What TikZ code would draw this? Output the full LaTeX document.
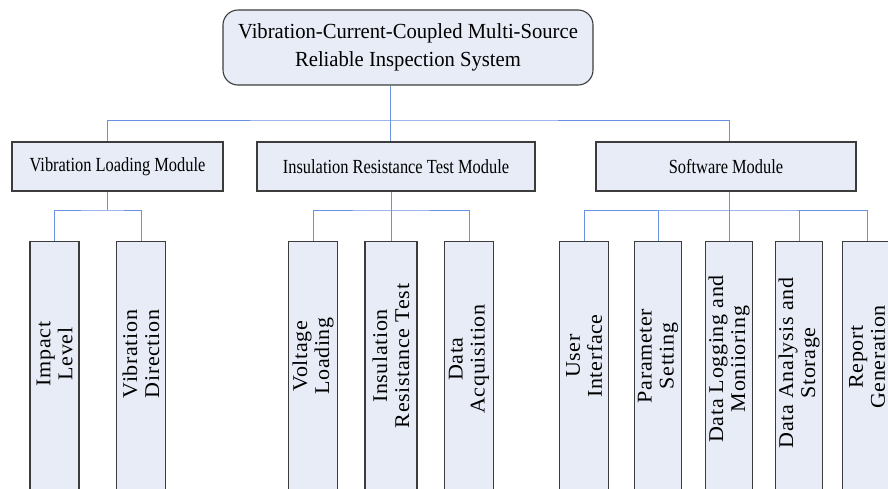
\documentclass[tikz,border=0pt]{standalone}
\usepackage{fontspec}
\setmainfont{Liberation Serif}
\newfontfamily\titlefont[FakeStretch=0.96]{Liberation Serif}
\newfontfamily\modfont[FakeStretch=0.82]{Liberation Serif}
\newfontfamily\leaffont[FakeStretch=1.05,LetterSpace=3]{Liberation Serif}
\usepackage{tikz}
\definecolor{boxfill}{RGB}{231,236,246}
\definecolor{boxline}{RGB}{60,60,60}
\definecolor{linkblue}{RGB}{105,145,225}
\tikzset{
  sysbox/.style={draw=boxline, fill=boxfill, line width=1.1pt, rounded corners=15pt,
    minimum width=370pt, minimum height=75pt, align=center,
    font=\titlefont\fontsize{21.5}{28}\selectfont},
  modbox/.style={draw=boxline, fill=boxfill, line width=1.1pt,
    minimum height=49pt, font=\modfont\fontsize{20}{24}\selectfont},
  leaf/.style={draw=boxline, fill=boxfill, line width=1.1pt, anchor=north,
    minimum width=49pt, minimum height=300pt},
  leaflabel/.style={rotate=90, align=center, inner sep=0pt,
    font=\leaffont\fontsize{21}{22}\selectfont},
  link/.style={draw=linkblue, line width=0.9pt}
}

\begin{document}
\begin{tikzpicture}[x=1pt,y=-1pt]
\clip (0,0) rectangle (888,488);
\fill [white] (0,0) rectangle (888,488);
\node [sysbox] (sys) at (408,47.5) {Vibration-Current-Coupled Multi-Source\\Reliable Inspection System};
\node [modbox, minimum width=211pt] (vlm) at (117.5,166.5) {Vibration Loading Module};
\node [modbox, minimum width=278pt] (irm) at (396,166.5) {Insulation Resistance Test Module};
\node [modbox, minimum width=260pt] (sm) at (726,166.5) {Software Module};
\node [leaf] (impact) at (54.5,241) {};
\node [leaf] (vdir) at (141,241) {};
\node [leaf] (volt) at (313,241) {};
\node [leaf, minimum width=52pt] (irt) at (391,241) {};
\node [leaf] (daq) at (469,241) {};
\node [leaf] (ui) at (584,241) {};
\node [leaf, minimum width=47pt] (ps) at (658,241) {};
\node [leaf, minimum width=47pt] (dl) at (729,241) {};
\node [leaf, minimum width=47pt] (da) at (799,241) {};
\node [leaf] (rep) at (867,241) {};
\node [leaflabel] (impacttxt) at ([yshift=-113pt]impact.north) {Impact\\Level};
\node [leaflabel] (vdirtxt) at ([yshift=-113pt]vdir.north) {Vibration\\Direction};
\node [leaflabel] (volttxt) at ([yshift=-115pt]volt.north) {Voltage\\Loading};
\node [leaflabel] (irttxt) at ([yshift=-115pt]irt.north) {Insulation\\Resistance Test};
\node [leaflabel] (daqtxt) at ([yshift=-118pt]daq.north) {Data\\Acquisition};
\node [leaflabel] (uitxt) at ([yshift=-115pt]ui.north) {User\\Interface};
\node [leaflabel] (pstxt) at ([yshift=-115pt]ps.north) {Parameter\\Setting};
\node [leaflabel] (dltxt) at ([yshift=-118pt]dl.north) {Data Logging and\\Moniioring};
\node [leaflabel] (datxt) at ([yshift=-122pt]da.north) {Data Analysis and\\Storage};
\node [leaflabel] (reptxt) at ([yshift=-116pt]rep.north) {Report\\Generation};
\coordinate (j0) at (390,120);
\coordinate (j1) at (107,210);
\coordinate (j2) at (391,210);
\coordinate (j3) at (729,210);
\draw [link] (j0 |- sys.south) -- (j0);
\draw [link] (j1 |- vlm.north) |- (j0) -| (j3 |- sm.north);
\draw [link] (j0) -- (j0 |- irm.north);
\draw [link] (j1 |- vlm.south) -- (j1);
\draw [link] (impact.north) |- (j1) -| (vdir.north);
\draw [link] (j2 |- irm.south) -- (irt.north);
\draw [link] (volt.north) |- (j2) -| (daq.north);
\draw [link] (j3 |- sm.south) -- (dl.north);
\draw [link] (ui.north) |- (j3) -| (rep.north);
\draw [link] (ps.north) -- (ps.north |- j3);
\draw [link] (da.north) -- (da.north |- j3);
\end{tikzpicture}
\end{document}
